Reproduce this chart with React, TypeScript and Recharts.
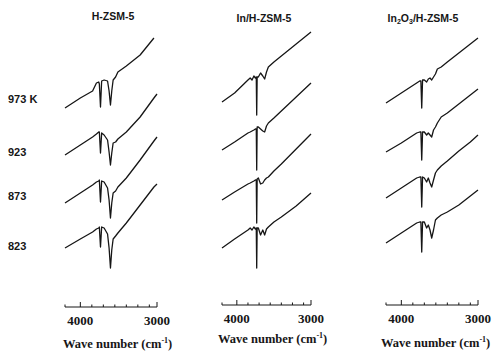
import { LineChart, Line, XAxis, YAxis } from 'recharts';

// wave number grid (cm-1) and relative absorbance for each panel / temperature
const wnHZSM = [4200, 4000, 3840, 3790, 3760, 3752, 3737, 3722, 3690, 3645, 3625, 3607, 3590, 3572, 3540, 3510, 3400, 3220, 3040, 3000];
const hzsm973 = [199, 209, 216, 224, 225, 223, 200, 226, 227, 226, 216, 202, 216, 227, 230, 235, 241, 252, 269, null];
const hzsm923 = [152, 162, 170, 173, 175, 175, 154, 174, 172, 167, 155, 142, 154, 164, 165, 168, 175, 190, 209, 213];
const hzsm873 = [104, 114, 122, 125, 126, 127, 105, 126, 125, 119, 107, 89, 104, 114, 116, 120, 129, 147, 166, 170];
const hzsm823 = [59, 68, 75, 78, 79, 80, 60, 80, 79, 73, 59, 39, 57, 68, 71, 74, 84, 102, 120, 123];

const wnIn = [4200, 4030, 3850, 3820, 3795, 3770, 3750, 3738, 3732, 3726, 3710, 3680, 3650, 3625, 3600, 3575, 3500, 3400, 3200, 3000];
const in973 = [203, 212, 225, 227, 225, 229, 227, 228, 190, 228, 228, 232, 229, 226, 233, 238, 243, 249, 261, 273];
const in923 = [155, 163, 172, 173, 174, 175, 176, 176, 135, 178, 178, 176, 174, 173, 179, 182, 187, 194, 208, 222];
const in873 = [105, 113, 121, 122, 123, 124, 125, 125, 82, 126, 127, 121, 122, 125, 127, 128, 134, 141, 156, 171];
const in823 = [57, 66, 75, 77, 75, 78, 76, 77, 37, 77, 77, 70, 75, 70, 76, 78, 83, 88, 99, 112];

const wnOx = [4200, 4000, 3800, 3760, 3745, 3734, 3723, 3700, 3670, 3648, 3626, 3604, 3580, 3555, 3530, 3480, 3400, 3250, 3100, 3000];
const ox973 = [202, 212, 222, 224, 224, 197, 225, 225, 223, 226, 227, 225, 228, 231, 236, 238, 243, 252, 261, 267];
const ox923 = [153, 162, 172, 173, 173, 145, 173, 173, 170, 172, 170, 168, 175, 178, 182, 188, 192, 201, 210, 216];
const ox873 = [107, 117, 127, 128, 128, 98, 128, 127, 123, 127, 122, 118, 125, 132, 135, 139, 144, 154, 163, 170];
const ox823 = [62, 72, 82, 83, 83, 53, 83, 83, 77, 80, 75, 67, 75, 85, 87, 90, 93, 100, 109, 115];

const temps = ['973 K', '923', '873', '823'];
const tickValues = [4200, 4000, 3850, 3700, 3550, 3400, 3250, 3100, 3000];
const labelledTicks = [4000, 3000];

const W = 494;
const H = 354;
const INK = '#161616';
const SANS = '"Liberation Sans", Arial, sans-serif';
const SERIF = '"Liberation Serif", "Times New Roman", serif';

const buildRows = (wn: number[], series: (number | null)[][]) =>
  wn.map((w, i) => ({ wn: w, t0: series[0][i], t1: series[1][i], t2: series[2][i], t3: series[3][i] }));

const panels = [
  { key: 'h', rows: buildRows(wnHZSM, [hzsm973, hzsm923, hzsm873, hzsm823]), left: 65, right: 157, axisY: 307, titleLeft: 63, titleTop: 337 },
  { key: 'in', rows: buildRows(wnIn, [in973, in923, in873, in823]), left: 222, right: 311, axisY: 305, titleLeft: 218, titleTop: 332 },
  { key: 'ox', rows: buildRows(wnOx, [ox973, ox923, ox873, ox823]), left: 386, right: 478, axisY: 305, titleLeft: 381, titleTop: 336 },
];

const tempY = [100, 153, 197, 247];

function AxisTick(props: any) {
  const { x, y, payload } = props;
  const major = labelledTicks.includes(payload.value);
  return (
    <g>
      <line x1={x} x2={x} y1={y} y2={y - (major ? 5 : 2.5)} stroke={INK} strokeWidth={1} />
      {major && (
        <text x={x} y={y + 18} textAnchor="middle" fontFamily={SERIF} fontWeight="bold" fontSize={13} fill={INK}>
          {payload.value}
        </text>
      )}
    </g>
  );
}

function Panel({ rows, left, right, axisY }: { rows: any[]; left: number; right: number; axisY: number }) {
  return (
    <div style={{ position: 'absolute', left: 0, top: 0 }}>
      <LineChart width={W} height={H} data={rows} margin={{ top: 0, right: W - right, bottom: 0, left }}>
        <XAxis
          type="number"
          dataKey="wn"
          domain={[3000, 4200]}
          reversed
          ticks={tickValues}
          interval={0}
          height={H - axisY}
          tickLine={false}
          tickSize={0}
          tickMargin={0}
          axisLine={{ stroke: INK, strokeWidth: 1 }}
          tick={(p: any) => <AxisTick {...p} />}
        />
        <YAxis hide type="number" domain={[0, axisY]} allowDataOverflow />
        {['t0', 't1', 't2', 't3'].map((k) => (
          <Line
            key={k}
            dataKey={k}
            type="linear"
            dot={false}
            stroke={INK}
            strokeWidth={1.3}
            strokeLinejoin="round"
            isAnimationActive={false}
          />
        ))}
      </LineChart>
    </div>
  );
}

const titleStyle = (cx: number, top: number): React.CSSProperties => ({
  position: 'absolute',
  left: cx,
  top,
  transform: 'translateX(-50%)',
  fontFamily: SANS,
  fontWeight: 'bold',
  fontSize: 10.5,
  lineHeight: 1,
  whiteSpace: 'nowrap',
  color: INK,
});

export default function App() {
  return (
    <div style={{ position: 'absolute', left: 0, top: 0, width: W, height: H, overflow: 'hidden', background: '#fff' }}>
      {panels.map((p) => (
        <Panel key={p.key} rows={p.rows} left={p.left} right={p.right} axisY={p.axisY} />
      ))}

      <div style={titleStyle(113, 11)}>H-ZSM-5</div>
      <div style={titleStyle(264, 13)}>In/H-ZSM-5</div>
      <div style={titleStyle(423, 13)}>
        In<sub style={{ fontSize: 7, verticalAlign: -2 }}>2</sub>O<sub style={{ fontSize: 7, verticalAlign: -2 }}>3</sub>/H-ZSM-5
      </div>

      {temps.map((t, i) => (
        <div
          key={t}
          style={{
            position: 'absolute',
            left: 8,
            top: tempY[i] - 6,
            fontFamily: SANS,
            fontWeight: 'bold',
            fontSize: 11,
            lineHeight: 1,
            whiteSpace: 'nowrap',
            color: INK,
          }}
        >
          {t}
        </div>
      ))}

      {panels.map((p) => (
        <div
          key={p.key + '-x'}
          style={{
            position: 'absolute',
            left: p.titleLeft,
            top: p.titleTop,
            fontFamily: SERIF,
            fontWeight: 'bold',
            fontSize: 12.5,
            lineHeight: 1,
            whiteSpace: 'nowrap',
            color: INK,
          }}
        >
          Wave number (cm<sup style={{ fontSize: 8, verticalAlign: 5 }}>-1</sup>)
        </div>
      ))}
    </div>
  );
}
